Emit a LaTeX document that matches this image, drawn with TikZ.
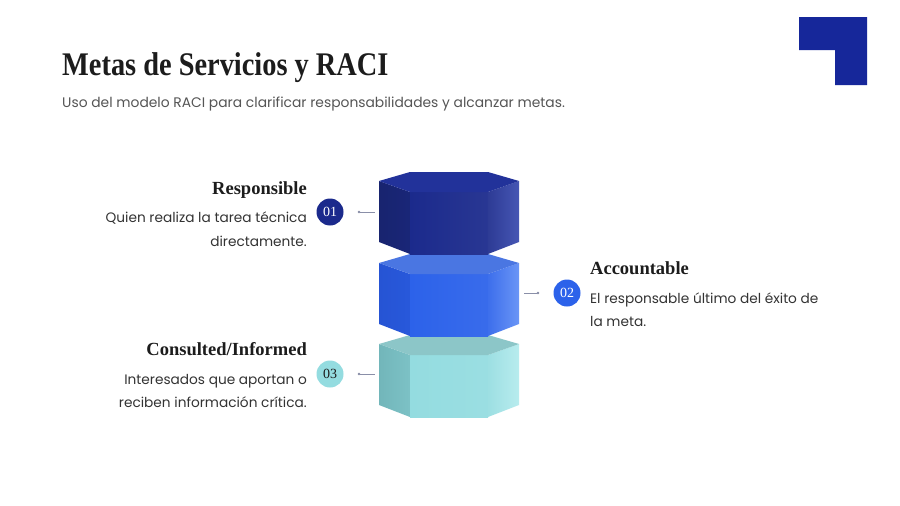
\documentclass[tikz,border=0pt]{standalone}
\usepackage{fontspec}
\usepackage{tikz}
\usetikzlibrary{arrows.meta,positioning}

\newfontfamily\titlefont[FakeStretch=0.86]{Liberation Serif}
\newfontfamily\headfont{Liberation Serif}
\newfontfamily\bodyfont{Poppins}

\definecolor{ink}{HTML}{1C1C1C}
\definecolor{subgray}{HTML}{555555}
\definecolor{bodygray}{HTML}{333333}
\definecolor{tickgray}{HTML}{8A8FA8}
\definecolor{cornerblue}{HTML}{16279A}
% block colours
\definecolor{navyL}{HTML}{18246F}
\definecolor{navyF}{HTML}{1B2A8C}
\definecolor{navyR}{HTML}{4656B4}
\definecolor{navyT}{HTML}{22329A}
\definecolor{blueL}{HTML}{2654D4}
\definecolor{blueF}{HTML}{2C62EA}
\definecolor{blueR}{HTML}{6A95F6}
\definecolor{blueT}{HTML}{4A76E2}
\definecolor{aquaL}{HTML}{72B6BA}
\definecolor{aquaF}{HTML}{94DCE0}
\definecolor{aquaR}{HTML}{B8ECEE}
\definecolor{aquaT}{HTML}{8CC6C8}

% hexagonal prism: #1 top y, #2..#5 left/front/right/top colours
\newcommand{\hexprism}[5]{%
  \shade[left color=#2, right color=#2!70!#3] (379,#1+9) -- (410,#1+20) -- (410,#1+82) -- (379,#1+70) -- cycle;
  \shade[left color=#3, right color=#3!94!white] (410,#1+20) -- (488,#1+20) -- (488,#1+82) -- (410,#1+82) -- cycle;
  \shade[left color=#3!92!white, right color=#4] (488,#1+20) -- (519,#1+9) -- (519,#1+70) -- (488,#1+82) -- cycle;
  \fill[#5] (410,#1) -- (488,#1) -- (519,#1+9) -- (488,#1+20) -- (410,#1+20) -- (379,#1+9) -- cycle;
}

\begin{document}
\begin{tikzpicture}[x=1pt, y=-1pt,
  title/.style={font=\titlefont\bfseries\fontsize{33}{36}\selectfont, text=ink, inner sep=0pt},
  subtitle/.style={font=\bodyfont\fontsize{13.85}{18}\selectfont, text=subgray, inner sep=0pt},
  heading/.style={font=\headfont\bfseries\fontsize{18.5}{20}\selectfont, text=ink, inner sep=0pt},
  bodytext/.style={font=\bodyfont\fontsize{13.7}{24}\selectfont, text=bodygray, inner sep=0pt},
  badge/.style={circle, minimum size=27pt, inner sep=0pt, font=\headfont\fontsize{14}{14}\selectfont},
  tick/.style={draw=tickgray, line width=0.9pt, {Circle[length=2.6pt]}-, shorten <=14pt}
]
\useasboundingbox (0,0) rectangle (900,506);
\fill[white] (0,0) rectangle (900,506);

% corner mark
\fill[cornerblue] (799,17) -- (867,17) -- (867,85) -- (835,85) -- (835,50) -- (799,50) -- cycle;

% header
\node[title, anchor=base west] (ttl) at (62,75) {Metas de Servicios y RACI};
\node[subtitle, anchor=base west] (sub) at (62,107) {Uso del modelo RACI para clarificar responsabilidades y alcanzar metas.};

% stacked blocks, lowest first
\hexprism{335}{aquaL}{aquaF}{aquaR}{aquaT}
\hexprism{254}{blueL}{blueF}{blueR}{blueT}
\hexprism{172}{navyL}{navyF}{navyR}{navyT}

\coordinate (e1) at (375,212);
\coordinate (e2) at (524,293);
\coordinate (e3) at (375,374);

% badges
\node[badge, fill=navyF, text=white] (b1) at (330,212) {01};
\node[badge, fill=blueF, text=white] (b2) at (567,293) {02};
\node[badge, fill=aquaF, text=ink] (b3) at (330,374) {03};

\draw[tick] (b1.east) -- (e1);
\draw[tick] (b2.west) -- (e2);
\draw[tick] (b3.east) -- (e3);

% labels
\node[heading, anchor=base east] (h1) at (307,194) {Responsible};
\node[bodytext, anchor=base east] (t1) at (307,222) {Quien realiza la tarea técnica};
\node[bodytext, anchor=base east] (t1b) at (307,246) {directamente.};

\node[heading, anchor=base west] (h2) at (590,274) {Accountable};
\node[bodytext, anchor=base west] (t2) at (590,303) {El responsable último del éxito de};
\node[bodytext, anchor=base west] (t2b) at (590,326) {la meta.};

\node[heading, anchor=base east] (h3) at (307,355) {Consulted/Informed};
\node[bodytext, anchor=base east] (t3) at (307,384) {Interesados que aportan o};
\node[bodytext, anchor=base east] (t3b) at (307,407) {reciben información crítica.};

\end{tikzpicture}
\end{document}
